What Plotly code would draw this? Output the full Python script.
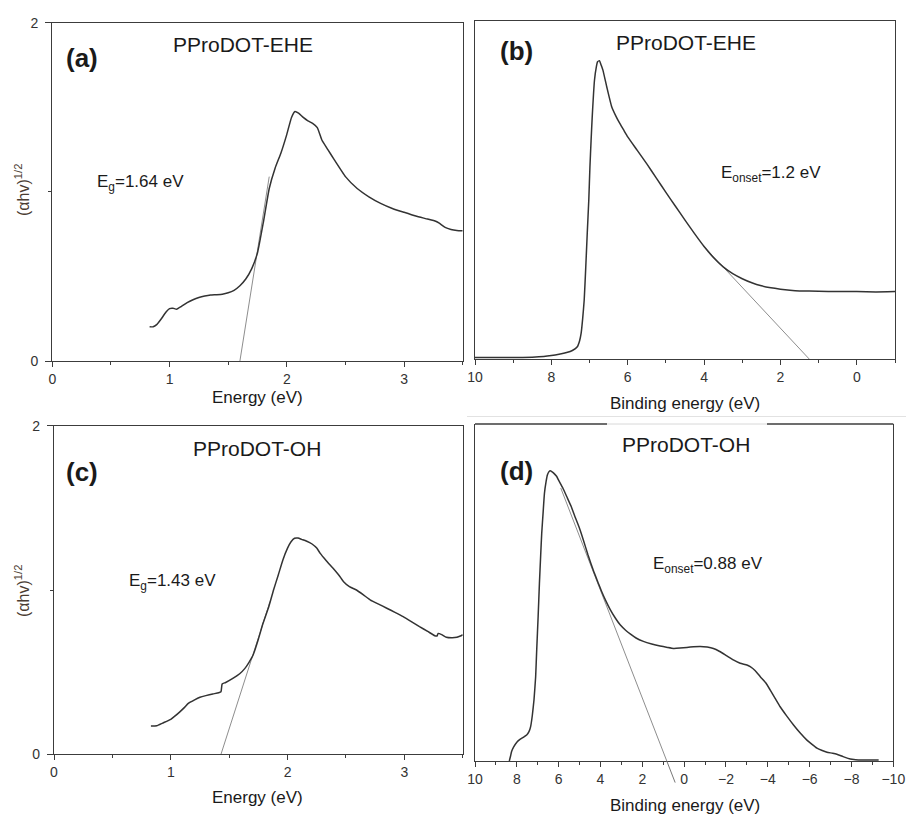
import plotly.graph_objects as go

W, H = 906, 815

# ---------------- Panel (a): PProDOT-EHE Tauc plot ----------------
a_energy = [0.83, 0.86, 0.89, 0.93, 0.97, 1.0, 1.03, 1.06, 1.1, 1.15, 1.2, 1.25, 1.3, 1.35, 1.4,
            1.45, 1.5, 1.55, 1.6, 1.65, 1.7, 1.75, 1.8, 1.85, 1.9, 1.95, 2.0, 2.04, 2.07, 2.1,
            2.14, 2.18, 2.22, 2.26, 2.3, 2.35, 2.4, 2.5, 2.6, 2.7, 2.8, 2.9, 3.0, 3.1, 3.2,
            3.27, 3.3, 3.35, 3.4, 3.45, 3.5]
a_value = [0.203, 0.202, 0.215, 0.25, 0.29, 0.31, 0.312, 0.306, 0.322, 0.345, 0.362, 0.375, 0.384,
           0.39, 0.392, 0.395, 0.403, 0.418, 0.445, 0.485, 0.545, 0.64, 0.82, 1.02, 1.14, 1.23,
           1.34, 1.44, 1.475, 1.465, 1.44, 1.42, 1.405, 1.38, 1.305, 1.25, 1.195, 1.09, 1.02,
           0.971, 0.932, 0.902, 0.879, 0.857, 0.839, 0.826, 0.815, 0.79, 0.778, 0.772, 0.77]
a_tan_x = [1.60, 1.85]
a_tan_y = [0.0, 1.09]

# ---------------- Panel (b): PProDOT-EHE UPS ----------------
b_energy = [10, 9.5, 9, 8.5, 8.2, 8.0, 7.8, 7.6, 7.45, 7.32, 7.26, 7.22, 7.18, 7.14, 7.1, 7.06,
            7.02, 6.99, 6.96, 6.93, 6.87, 6.82, 6.79, 6.74, 6.7, 6.65, 6.55, 6.42, 6.3, 6.2,
            6.1, 6.0, 5.75, 5.5, 5.25, 5.0, 4.75, 4.5, 4.25, 4.0, 3.75, 3.5, 3.25, 3.0, 2.75,
            2.5, 2.25, 2.0, 1.75, 1.5, 1.0, 0.5, 0, -0.5, -1]
b_value = [0.005, 0.005, 0.005, 0.006, 0.008, 0.011, 0.015, 0.02, 0.026, 0.037, 0.055, 0.077,
           0.12, 0.175, 0.27, 0.372, 0.47, 0.568, 0.645, 0.716, 0.825, 0.865, 0.879, 0.882,
           0.87, 0.854, 0.805, 0.746, 0.716, 0.695, 0.676, 0.657, 0.617, 0.577, 0.535, 0.493,
           0.452, 0.411, 0.371, 0.333, 0.3, 0.273, 0.253, 0.238, 0.226, 0.217, 0.211, 0.207,
           0.204, 0.202, 0.201, 0.2, 0.2, 0.199, 0.2]
b_tan_x = [4.0, 1.24]
b_tan_y = [0.333, 0.0]

# ---------------- Panel (c): PProDOT-OH Tauc plot ----------------
c_energy = [0.83, 0.88, 0.93, 1.0, 1.04, 1.08, 1.12, 1.15, 1.2, 1.25, 1.3, 1.36, 1.41, 1.43, 1.44,
            1.47, 1.535, 1.59, 1.635, 1.67, 1.705, 1.75, 1.79, 1.84, 1.88, 1.92, 1.96, 2.0, 2.03,
            2.06, 2.09, 2.12, 2.16, 2.21, 2.25, 2.28, 2.33, 2.39, 2.44, 2.48, 2.53, 2.59, 2.65,
            2.71, 2.78, 2.85, 2.92, 2.99, 3.06, 3.13, 3.2, 3.26, 3.28, 3.29, 3.32, 3.36, 3.41,
            3.45, 3.48, 3.5]
c_value = [0.172, 0.174, 0.19, 0.213, 0.235, 0.26, 0.287, 0.31, 0.33, 0.347, 0.357, 0.367, 0.375,
           0.381, 0.428, 0.437, 0.463, 0.49, 0.523, 0.56, 0.604, 0.7, 0.797, 0.9, 1.0, 1.09,
           1.183, 1.255, 1.294, 1.315, 1.316, 1.308, 1.298, 1.28, 1.255, 1.223, 1.18, 1.132,
           1.09, 1.05, 1.02, 1.0, 0.97, 0.939, 0.914, 0.889, 0.864, 0.838, 0.808, 0.777, 0.748,
           0.722, 0.72, 0.736, 0.728, 0.712, 0.709, 0.712, 0.72, 0.728]
c_tan_x = [1.43, 1.85]
c_tan_y = [0.0, 0.93]

# ---------------- Panel (d): PProDOT-OH UPS ----------------
d_energy = [8.36, 8.3, 8.25, 8.15, 8.0, 7.85, 7.7, 7.53, 7.42, 7.34, 7.26, 7.18, 7.1, 7.05, 6.98,
            6.92, 6.86, 6.81, 6.74, 6.68, 6.6, 6.54, 6.47, 6.41, 6.33, 6.25, 6.1, 6.01, 5.8, 5.61,
            5.4, 5.22, 5.0, 4.82, 4.6, 4.34, 4.1, 3.94, 3.75, 3.54, 3.3, 3.06, 2.8, 2.58, 2.3,
            1.95, 1.55, 1.15, 0.8, 0.51, 0.2, -0.13, -0.45, -0.77, -1.1, -1.4, -1.7, -2.04,
            -2.35, -2.68, -3.0, -3.16, -3.4, -3.64, -3.9, -4.11, -4.35, -4.59, -4.9, -5.23,
            -5.55, -5.87, -6.1, -6.35, -6.6, -6.83, -7.1, -7.3, -7.6, -7.94, -8.2, -8.42, -9.3]
d_value = [0.0, 0.015, 0.028, 0.042, 0.056, 0.064, 0.07, 0.077, 0.087, 0.102, 0.135, 0.181, 0.25,
           0.329, 0.43, 0.527, 0.61, 0.676, 0.74, 0.794, 0.83, 0.849, 0.858, 0.861, 0.859,
           0.855, 0.845, 0.834, 0.81, 0.784, 0.755, 0.725, 0.69, 0.656, 0.612, 0.565, 0.527,
           0.502, 0.476, 0.45, 0.425, 0.404, 0.388, 0.377, 0.365, 0.355, 0.347, 0.341, 0.337,
           0.334, 0.335, 0.337, 0.339, 0.34, 0.338, 0.334, 0.325, 0.312, 0.3, 0.29, 0.285,
           0.28, 0.268, 0.25, 0.232, 0.211, 0.186, 0.161, 0.134, 0.107, 0.083, 0.062, 0.05,
           0.038, 0.031, 0.026, 0.023, 0.02, 0.013, 0.006, 0.004, 0.003, 0.003]
d_tan_x = [5.9, 0.83, 0.43]
d_tan_y = [0.81, 0.0, -0.064]

# ---------------- Text ----------------
panel_letters = ["(a)", "(b)", "(c)", "(d)"]
panel_titles = ["PProDOT-EHE", "PProDOT-EHE", "PProDOT-OH", "PProDOT-OH"]
gap_labels = ["E<sub>g</sub>=1.64 eV", "E<sub>onset</sub>=1.2 eV",
              "E<sub>g</sub>=1.43 eV", "E<sub>onset</sub>=0.88 eV"]
x_titles = ["Energy (eV)", "Binding energy (eV)", "Energy (eV)", "Binding energy (eV)"]
y_title = "(αhv)<sup>1/2</sup>"

FONT = "Liberation Sans, Arial, Helvetica, sans-serif"
LINE = "#333333"
AX = "#3c3c3c"
TAN = "#808080"


def px(x):
    return x / W


def py(y):
    return 1 - y / H


fig = go.Figure()

curves = [(a_energy, a_value, a_tan_x, a_tan_y),
          (b_energy, b_value, b_tan_x, b_tan_y),
          (c_energy, c_value, c_tan_x, c_tan_y),
          (d_energy, d_value, d_tan_x[:2], d_tan_y[:2])]
for i, (xe, yv, tx, ty) in enumerate(curves):
    sfx = "" if i == 0 else str(i + 1)
    fig.add_trace(go.Scatter(x=tx, y=ty, mode="lines", xaxis="x" + sfx, yaxis="y" + sfx,
                             line=dict(color=TAN, width=0.9),
                             showlegend=False, hoverinfo="skip"))
    fig.add_trace(go.Scatter(x=xe, y=yv, mode="lines", xaxis="x" + sfx, yaxis="y" + sfx,
                             line=dict(color=LINE, width=1.5, shape="spline", smoothing=0.4),
                             showlegend=False))

# domains (from pixel positions)
dom = {
    1: dict(x=[px(52.3), px(462.7)], y=[py(361), py(22.7)]),
    2: dict(x=[px(475), px(895)], y=[py(359.3), py(20.7)]),
    3: dict(x=[px(54), px(462.7)], y=[py(754.3), py(425.7)]),
    4: dict(x=[px(475), px(893.3)], y=[py(761), py(424)]),
}
d_xrange = [10, -10]
d_yrange = [0, 1]

tickfont = dict(family=FONT, size=14, color="#333333")
common = dict(showline=True, linecolor=AX, linewidth=1.3, showgrid=False, zeroline=False,
              ticks="outside", tickcolor=AX, tickwidth=1.2, tickfont=tickfont, automargin=False)
minor_style = dict(ticks="outside", tickcolor=AX, tickwidth=1.2, ticklen=3, showgrid=False)

layout = dict(template="none", width=W, height=H, margin=dict(l=0, r=0, t=0, b=0, pad=0),
              paper_bgcolor="white", plot_bgcolor="white", showlegend=False)

# (a) and (c)
for k in (1, 3):
    xname = "xaxis" if k == 1 else "xaxis%d" % k
    yname = "yaxis" if k == 1 else "yaxis%d" % k
    layout[xname] = dict(common, domain=dom[k]["x"], anchor="y" if k == 1 else "y3",
                         range=[0, 3.5], tick0=0, dtick=1, ticklen=5, mirror=True,
                         minor=dict(minor_style, dtick=0.5))
    layout[yname] = dict(common, domain=dom[k]["y"], anchor="x" if k == 1 else "x3",
                         range=[0, 2], tick0=0, dtick=2, ticklen=6, mirror=True,
                         ticklabelstandoff=4, minor=dict(minor_style, dtick=1))

# (b)
layout["xaxis2"] = dict(common, domain=dom[2]["x"], anchor="y2", range=[10, -1],
                        tick0=0, dtick=2, ticklen=5, mirror=True,
                        minor=dict(minor_style, dtick=1))
layout["yaxis2"] = dict(showline=True, linecolor=AX, linewidth=1.3, showgrid=False, zeroline=False,
                        domain=dom[2]["y"], anchor="x2", range=[0, 1], ticks="",
                        showticklabels=False, mirror=True, automargin=False)
# (d) (top frame drawn separately)
layout["xaxis4"] = dict(common, domain=dom[4]["x"], anchor="y4", range=d_xrange,
                        tick0=0, dtick=2, ticklen=5, mirror=False,
                        minor=dict(minor_style, dtick=1))
layout["yaxis4"] = dict(showline=True, linecolor=AX, linewidth=1.3, showgrid=False, zeroline=False,
                        domain=dom[4]["y"], anchor="x4", range=d_yrange, ticks="",
                        showticklabels=False, mirror=True, automargin=False)

fig.update_layout(**layout)


# tangent of (d) continues below the axis (paper coordinates from the axis scale)
def d_to_paper(xv, yv):
    x0, x1 = dom[4]["x"]
    y0, y1 = dom[4]["y"]
    fx = (xv - d_xrange[0]) / (d_xrange[1] - d_xrange[0])
    fy = (yv - d_yrange[0]) / (d_yrange[1] - d_yrange[0])
    return x0 + fx * (x1 - x0), y0 + fy * (y1 - y0)


p0 = d_to_paper(d_tan_x[1], d_tan_y[1])
p1 = d_to_paper(d_tan_x[2], d_tan_y[2])
fig.add_shape(type="line", xref="paper", yref="paper", x0=p0[0], y0=p0[1], x1=p1[0], y1=p1[1],
              layer="above", line=dict(color="#777777", width=1))

# top frame of (d) with a lighter gap behind the title
gap0, gap1 = (607 - 475) / (893.3 - 475), (767 - 475) / (893.3 - 475)
fig.add_shape(type="line", xref="x4 domain", yref="y4 domain", x0=0, x1=gap0, y0=1, y1=1,
              line=dict(color=AX, width=1.3))
fig.add_shape(type="line", xref="x4 domain", yref="y4 domain", x0=gap1, x1=1, y0=1, y1=1,
              line=dict(color=AX, width=1.3))
fig.add_shape(type="line", xref="x4 domain", yref="y4 domain", x0=gap0, x1=gap1, y0=1, y1=1,
              line=dict(color="#d8d8d8", width=1))
# faint separator line under panel (b)
fig.add_shape(type="line", xref="paper", yref="paper", x0=px(467), x1=1, y0=py(416.5), y1=py(416.5),
              line=dict(color="#e2e2e2", width=1))

# annotations
letter_pos = [(82, 58), (516, 51), (82, 472), (516, 471)]
title_pos = [(243, 44), (686, 42), (257, 448), (686, 445)]
gap_pos = [(140, 183), (771, 174), (172, 582), (708, 565)]
xt_pos = [(257, 397), (685, 403), (257, 797), (685, 805)]
yt_pos = [(22, 190), (22, 591)]


def ann(x, y, text, size, color="#1a1a1a", angle=0):
    fig.add_annotation(xref="paper", yref="paper", x=px(x), y=py(y), text=text,
                       showarrow=False, xanchor="center", yanchor="middle", textangle=angle,
                       font=dict(family=FONT, size=size, color=color))


for i in range(4):
    ann(*letter_pos[i], "<b>%s</b>" % panel_letters[i], 26)
    ann(*title_pos[i], panel_titles[i], 21)
    ann(*gap_pos[i], gap_labels[i], 17)
    ann(*xt_pos[i], x_titles[i], 17)
for (x, y) in yt_pos:
    ann(x, y, y_title, 16, color="#4a3c32", angle=-90)

fig.write_html("out.html", config={"displayModeBar": False},
               post_script="document.body.style.margin='0px';document.body.style.overflow='hidden';")
